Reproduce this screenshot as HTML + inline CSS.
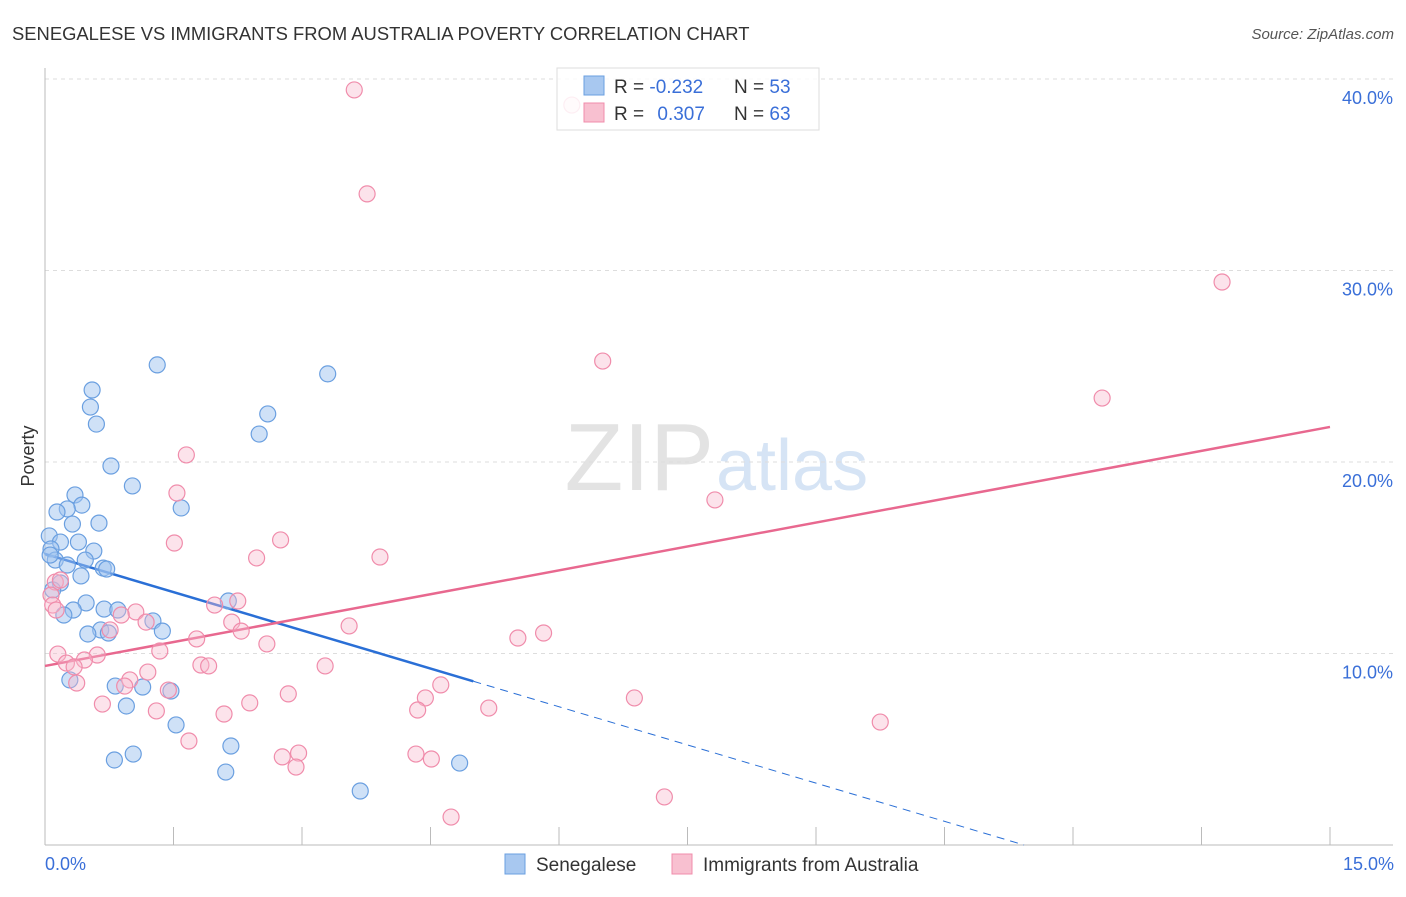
<!DOCTYPE html>
<html><head><meta charset="utf-8"><style>
body{margin:0;background:#fff;font-family:"Liberation Sans",sans-serif;}
svg text{font-family:"Liberation Sans",sans-serif;}
</style></head><body>
<svg id="chart" width="1406" height="892" viewBox="0 0 1406 892">
<text x="12" y="40" font-size="18.4" fill="#333">SENEGALESE VS IMMIGRANTS FROM AUSTRALIA POVERTY CORRELATION CHART</text>
<text x="1394" y="39" font-size="15" fill="#555" font-style="italic" text-anchor="end">Source: ZipAtlas.com</text>
<text x="714" y="490" font-size="96" fill="#e3e3e3" text-anchor="end" font-family="Liberation Serif">ZIP</text>
<text x="716" y="490" font-size="72" fill="#d6e4f5">atlas</text>
<text x="34" y="456" font-size="18" fill="#333" transform="rotate(-90 34 456)" text-anchor="middle">Poverty</text>
<g id="grid"></g><g id="axes"></g><g id="trends"></g><g id="points"></g>
<g>
<rect x="557" y="68" width="262" height="62" fill="rgba(255,255,255,0.85)" stroke="#ddd"/>
<rect x="584" y="76" width="20" height="19" fill="#a8c8f0" stroke="#6a9fe0"/>
<rect x="584" y="103" width="20" height="19" fill="#f8c0d0" stroke="#f08cab"/>
<text x="614" y="93" font-size="19" fill="#333">R = <tspan fill="#3a6fd8">-0.232</tspan></text>
<text x="734" y="93" font-size="19" fill="#333">N = <tspan fill="#3a6fd8">53</tspan></text>
<text x="614" y="120" font-size="19" fill="#333">R = <tspan fill="#3a6fd8" dx="8">0.307</tspan></text>
<text x="734" y="120" font-size="19" fill="#333">N = <tspan fill="#3a6fd8">63</tspan></text>
</g>
<g>
<rect x="505" y="854" width="20" height="20" fill="#a8c8f0" stroke="#6a9fe0"/>
<text x="536" y="871" font-size="19" fill="#333">Senegalese</text>
<rect x="672" y="854" width="20" height="20" fill="#f8c0d0" stroke="#f08cab"/>
<text x="703" y="871" font-size="19" fill="#333">Immigrants from Australia</text>
</g>
<text x="45" y="870" font-size="18" fill="#3a6fd8">0.0%</text>
<text x="1394" y="870" font-size="18" fill="#3a6fd8" text-anchor="end">15.0%</text>
</svg>
<script>
const yTicks=[10,20,30,40];
const yTickLabels=["10.0%","20.0%","30.0%","40.0%"];
const blueX=[1.31,3.30,0.55,0.53,2.60,0.60,2.50,0.77,1.02,0.35,0.43,0.26,1.59,0.14,0.63,0.32,0.05,0.18,0.39,0.07,0.57,0.12,0.47,0.26,0.68,0.72,0.42,0.18,0.09,0.48,2.14,0.33,0.69,0.85,0.22,1.26,0.65,1.37,0.50,0.74,0.29,0.82,1.14,1.47,0.95,1.53,2.17,1.03,0.81,4.84,2.11,3.68,0.06];
const blueY=[25.07,24.60,23.76,22.87,22.51,21.98,21.46,19.79,18.75,18.28,17.75,17.55,17.60,17.39,16.81,16.76,16.14,15.82,15.82,15.46,15.35,14.88,14.88,14.62,14.46,14.41,14.05,13.68,13.32,12.64,12.74,12.27,12.32,12.27,12.01,11.70,11.23,11.17,11.02,11.07,8.62,8.30,8.25,8.04,7.26,6.27,5.17,4.75,4.44,4.28,3.81,2.82,15.14];
const pinkX=[3.61,6.15,3.76,13.74,6.51,12.34,1.65,1.54,7.82,1.51,2.75,2.47,3.91,0.12,0.18,0.07,0.09,0.13,1.98,2.25,1.06,0.89,1.18,2.18,2.29,3.55,5.82,5.52,1.77,2.59,1.34,0.15,0.61,0.46,0.25,0.34,1.82,1.91,3.27,1.20,0.99,0.93,4.62,1.44,2.84,4.44,6.88,0.67,4.35,2.39,5.18,1.30,2.09,9.75,1.68,2.96,2.77,4.33,4.51,2.93,7.23,4.74,0.37,0.76];
const pinkY=[39.43,38.64,34.00,29.40,25.27,23.34,20.37,18.38,18.02,15.77,15.93,14.99,15.04,13.73,13.84,13.05,12.53,12.27,12.53,12.74,12.17,12.01,11.64,11.64,11.17,11.44,11.07,10.81,10.76,10.50,10.13,9.97,9.92,9.66,9.50,9.30,9.40,9.35,9.35,9.03,8.62,8.30,8.36,8.09,7.89,7.68,7.68,7.36,7.05,7.42,7.15,7.00,6.84,6.42,5.43,4.80,4.60,4.75,4.49,4.07,2.51,1.46,8.46,11.23];
const blueTrend=[15.2,-1.33];
const pinkTrend=[9.35,0.832];
const X0=45,X1=1330,Y0=845,PY=19.15;
const sx=v=>X0+v*(X1-X0)/15, sy=v=>Y0-v*PY;
const NS="http://www.w3.org/2000/svg";
function mk(tag,attrs,parent){const e=document.createElementNS(NS,tag);for(const k in attrs)e.setAttribute(k,attrs[k]);document.getElementById(parent).appendChild(e);return e;}
yTicks.forEach((t,i)=>{
 const g=mk('line',{x1:45,x2:1393,y1:sy(t),y2:sy(t),stroke:'#ddd','stroke-dasharray':'4,4'},'grid');
 
 
 const tx=mk('text',{x:1393,y:sy(t)+25,'font-size':18,fill:'#3a6fd8','text-anchor':'end'},'grid');
 tx.textContent=yTickLabels[i];
 
 
});
const ax=mk('line',{x1:45,x2:1393,y1:Y0,y2:Y0,stroke:'#bbb'},'axes');


const ay=mk('line',{x1:45,x2:45,y1:68,y2:Y0,stroke:'#bbb'},'axes');


for(let i=0;i<=10;i++){
 const tk=mk('line',{x1:sx(i*1.5),x2:sx(i*1.5),y1:Y0,y2:Y0-18,stroke:'#bbb'},'axes');
 
 
}
blueX.forEach((x,i)=>{
 const c=mk('circle',{cx:sx(x),cy:sy(blueY[i]),r:8,fill:'rgba(160,196,240,0.5)',stroke:'#6a9fe0','stroke-width':1.2},'points');
 
 
});
pinkX.forEach((x,i)=>{
 const c=mk('circle',{cx:sx(x),cy:sy(pinkY[i]),r:8,fill:'rgba(248,185,205,0.4)',stroke:'#f08cab','stroke-width':1.2},'points');
 
 
});
const bf=v=>blueTrend[0]+blueTrend[1]*v, pf=v=>pinkTrend[0]+pinkTrend[1]*v;
const bxEnd=5.0, bxZero=-blueTrend[0]/blueTrend[1];
const b1=mk('line',{x1:sx(0),y1:sy(bf(0)),x2:sx(bxEnd),y2:sy(bf(bxEnd)),stroke:'#2a6fd6','stroke-width':2.5},'trends');


const b2=mk('line',{x1:sx(bxEnd),y1:sy(bf(bxEnd)),x2:sx(bxZero),y2:sy(0),stroke:'#2a6fd6','stroke-width':1,'stroke-dasharray':'8,6'},'trends');


const p1=mk('line',{x1:sx(0),y1:sy(pf(0)),x2:sx(15),y2:sy(pf(15)),stroke:'#e8688f','stroke-width':2.5},'trends');


</script>
</body></html>
